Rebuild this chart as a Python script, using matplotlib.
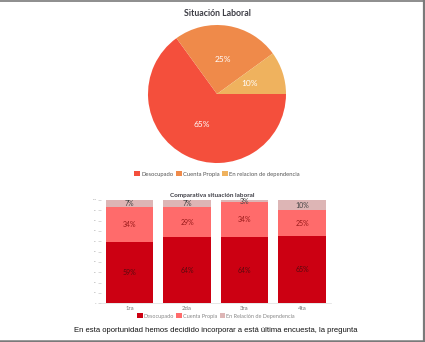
import matplotlib.pyplot as plt
from matplotlib.patches import Patch
from matplotlib.lines import Line2D
import numpy as np

# datos del grafico de torta
pie_labels = ["Desocupado", "Cuenta Propia", "En relacion de dependencia"]
pie_values = [65, 25, 10]
pie_colors = ["#F44F3C", "#EF8A4A", "#EFB25E"]

# datos del grafico de barras comparativo
encuestas = ["1ra", "2da", "3ra", "4ta"]
desocupado = [59, 64, 64, 65]
cuenta_propia = [34, 29, 34, 25]
relacion_dep = [7, 7, 3, 10]
bar_labels = ["Desocupado", "Cuenta Propia", "En Relación de Dependencia"]
bar_colors = ["#CC0012", "#FF6B6B", "#DDB5B5"]
label_colors = ["#5a0a0e", "#9a1a1a", "#444444"]

texto = "En esta oportunidad hemos decidido incorporar a está última encuesta, la pregunta"

W, H = 425, 342
fig = plt.figure(figsize=(W / 100, H / 100), dpi=100)
fig.patch.set_facecolor("white")


def px_axes(x0, y0, x1, y1):
    # coordenadas en pixeles (origen arriba a la izquierda)
    return fig.add_axes([x0 / W, 1 - y1 / H, (x1 - x0) / W, (y1 - y0) / H])


# --- torta ---
ax1 = px_axes(148, 25, 286, 163)
wedges, texts, autotexts = ax1.pie(
    pie_values, colors=pie_colors, startangle=0, counterclock=False,
    autopct="%1.0f%%", pctdistance=0.5,
    textprops=dict(color="white", fontsize=6, family="Lato"))
ax1.set_xlim(-1, 1)
ax1.set_ylim(-1, 1)
fig.text(217 / W, 1 - 13 / H, "Situación Laboral", ha="center", va="center",
         fontsize=6.3, fontweight="bold", color="#3d3d45", family="Lato")
h1 = [Patch(facecolor=c, edgecolor="none") for c in pie_colors]
fig.legend(h1, pie_labels, loc="center", bbox_to_anchor=(217 / W, 1 - 174 / H),
           ncol=3, frameon=False, handlelength=1.0, handleheight=1.0,
           handletextpad=0.2, columnspacing=0.4, borderpad=0,
           prop=dict(family="Lato", size=4.2), labelcolor="#555555")

# --- barras ---
ax2 = px_axes(100.75, 200, 330.75, 303.3)
x = np.arange(len(encuestas))
series = [desocupado, cuenta_propia, relacion_dep]
base = np.zeros(len(encuestas))
for vals, col, tcol in zip(series, bar_colors, label_colors):
    vals = np.array(vals, dtype=float)
    bars = ax2.bar(x, vals, bottom=base, width=0.83, color=col, edgecolor="none")
    for b, v, y0 in zip(bars, vals, base):
        top = min(y0 + v, 100)
        ax2.text(b.get_x() + b.get_width() / 2, (y0 + top) / 2, f"{int(v)}%",
                 ha="center", va="center", fontsize=5, color=tcol, family="Lato")
    base = base + vals
ax2.set_xlim(-0.5, len(encuestas) - 0.5)
ax2.set_ylim(0, 100)
ax2.set_xticks(x)
ax2.set_xticklabels(encuestas, fontsize=4.3, color="#777777", family="Lato")
ax2.set_yticks(np.arange(0, 101, 10))
ax2.set_yticklabels([str(v) for v in range(0, 101, 10)], fontsize=1.5, color="#999999")
ax2.tick_params(axis="x", length=0, pad=2)
ax2.tick_params(axis="y", length=2, width=0.4, color="#bbbbbb", pad=1)
for s in ["top", "right", "left"]:
    ax2.spines[s].set_visible(False)
ax2.spines["bottom"].set_color("#dddddd")
ax2.spines["bottom"].set_linewidth(0.5)
fig.text(212 / W, 1 - 195 / H, "Comparativa situación laboral", ha="center", va="center",
         fontsize=4.6, fontweight="bold", color="#3d3d45", family="Lato")
h2 = [Patch(facecolor=c, edgecolor="none") for c in bar_colors]
fig.legend(h2, bar_labels, loc="center", bbox_to_anchor=(216 / W, 1 - 316 / H),
           ncol=3, frameon=False, handlelength=1.0, handleheight=1.0,
           handletextpad=0.2, columnspacing=0.4, borderpad=0,
           prop=dict(family="Lato", size=4.0), labelcolor="#888888")

# texto inferior
fig.text(216 / W, 1 - 331 / H, texto, ha="center", va="center",
         fontsize=5.5, color="#111111", family="Liberation Sans")

# marco gris del documento
for (xs, ys, lw) in [((0, W), (0.5, 0.5), 1.2), ((W - 1, W - 1), (0, H), 1.6),
                     ((0, W), (H - 1.2, H - 1.2), 1.8)]:
    fig.add_artist(Line2D([v / W for v in xs], [1 - v / H for v in ys],
                          color="#7a7a7a", lw=lw, transform=fig.transFigure))

fig.savefig("out.png", dpi=100)
